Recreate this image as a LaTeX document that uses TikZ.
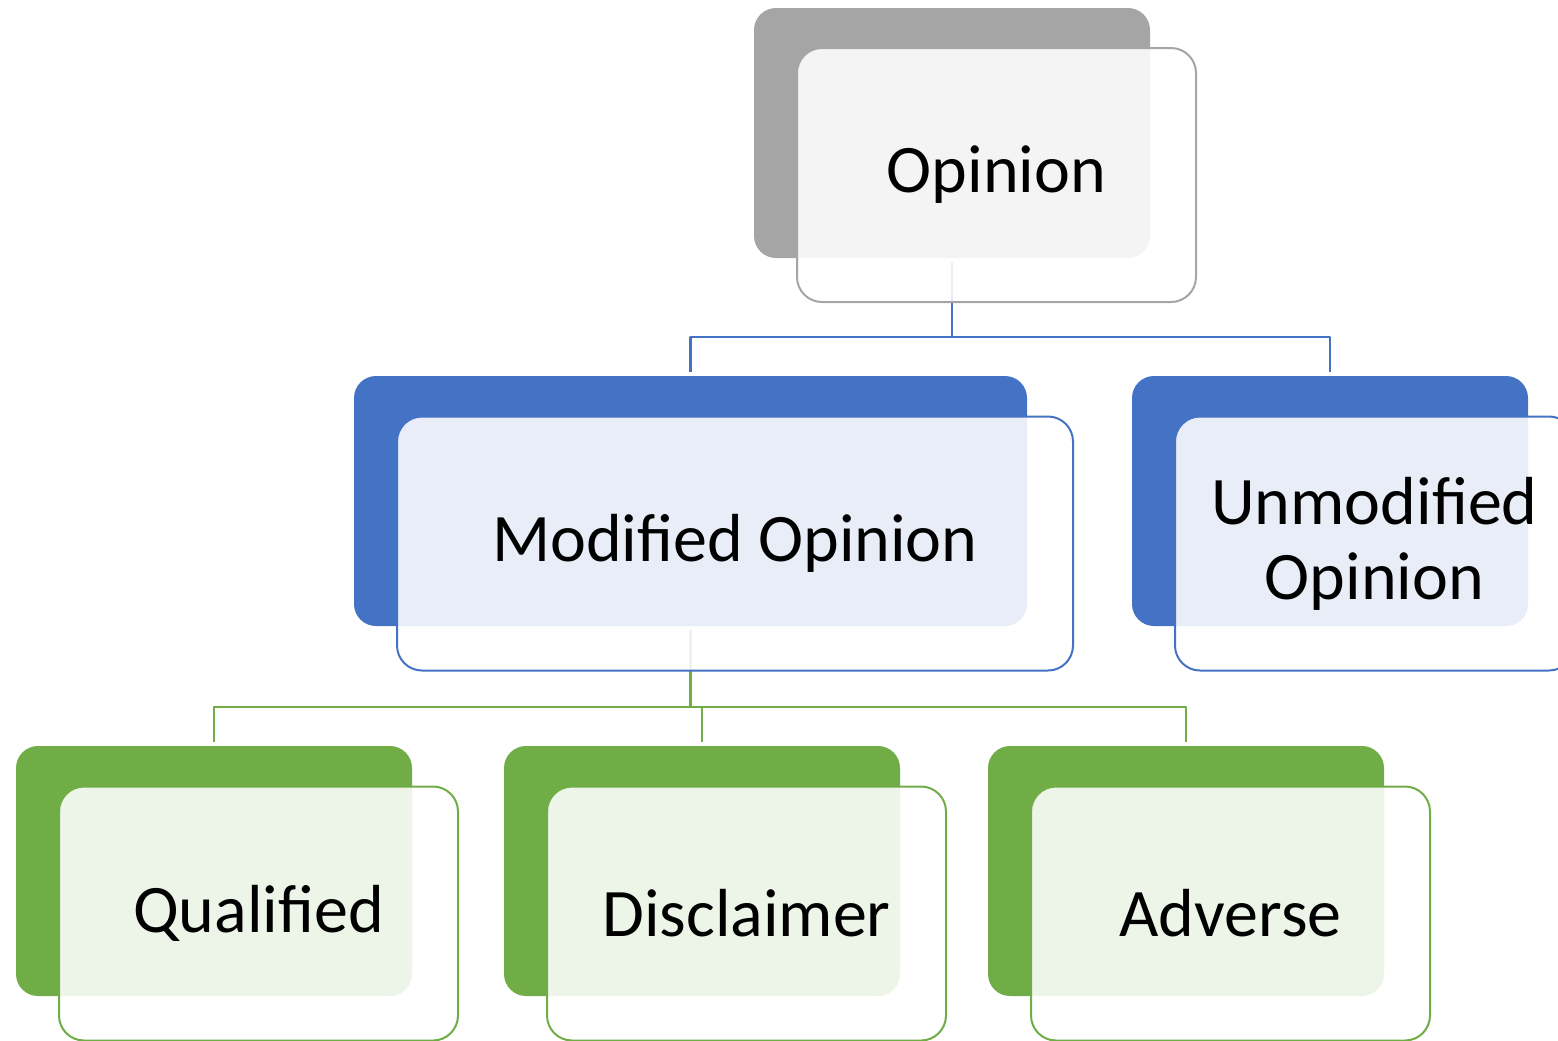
\documentclass[tikz,border=0pt]{standalone}
\usepackage{fontspec}
\setmainfont{Carlito}
\definecolor{grayback}{HTML}{A5A5A5}
\definecolor{blueback}{HTML}{4472C4}
\definecolor{greenback}{HTML}{70AD47}
\begin{document}
\begin{tikzpicture}[x=0.5pt, y=-0.5pt, font=\fontsize{34}{37.5}\selectfont, line join=round,
	back/.style={rounded corners=11pt, inner sep=0pt, minimum width=198pt, minimum height=125pt},
	front/.style={draw=#1, line width=1pt, fill=white, fill opacity=0.88, text opacity=1, rounded corners=12.5pt, inner sep=0pt, minimum width=199.5pt, minimum height=127pt, align=center},
	link/.style={draw=#1, line width=1.1pt, shorten >=2pt}]
	\useasboundingbox (0,0) rectangle (1558,1040);
	\node[back, fill=grayback] (opback) at (952,133) {};
	\node[back, fill=blueback, minimum width=336.5pt] (modback) at (690.5,501) {};
	\node[back, fill=blueback] (unmodback) at (1330,501) {};
	\node[back, fill=greenback] (qualback) at (214,871) {};
	\node[back, fill=greenback] (disback) at (702,871) {};
	\node[back, fill=greenback] (advback) at (1186,871) {};
	\coordinate (opbus) at (952,337);
	\coordinate (modbus) at (690.5,707);
	\draw[link=blueback, shorten <=2pt] (opback) -- (opbus) -| (modback);
	\draw[link=blueback] (opbus) -| (unmodback);
	\draw[link=greenback, shorten <=2pt] (modback) -- (modbus) -| (qualback);
	\draw[link=greenback] (modbus) -| (disback);
	\draw[link=greenback] (modbus) -| (advback);
	\node[front=grayback] (opfront) at ([shift={(44.5,42)}]opback.center) {Opinion};
	\node[front=blueback, minimum width=338pt] (modfront) at ([shift={(44.5,42.5)}]modback.center) {Modified Opinion};
	\node[front=blueback] (unmodfront) at ([shift={(44.5,42.5)}]unmodback.center) {Unmodified\\Opinion};
	\node[front=greenback] (qualfront) at ([shift={(44.5,42.5)}]qualback.center) {Qualified};
	\node[front=greenback] (disfront) at ([shift={(44.5,42.5)}]disback.center) {Disclaimer};
	\node[front=greenback] (advfront) at ([shift={(44.5,42.5)}]advback.center) {Adverse};
\end{tikzpicture}
\end{document}
